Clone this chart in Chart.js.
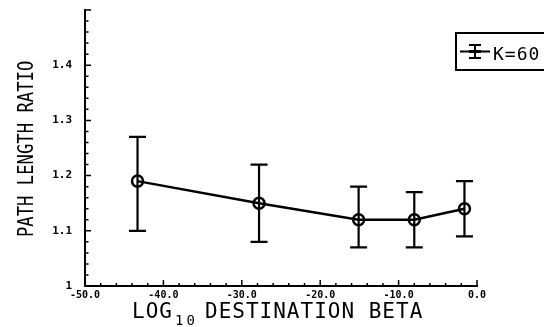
<!DOCTYPE html>
<html>
<head>
<meta charset="utf-8">
<script src="https://cdn.jsdelivr.net/npm/chart.js@4.4.1/dist/chart.umd.min.js"></script>
<style>
  html, body { margin: 0; padding: 0; background: #fff; }
  #wrap { width: 544px; height: 327px; position: relative; }
</style>
</head>
<body>
<div id="wrap"><canvas id="chart"></canvas></div>
<script>
// Данные
const betaLog = [-43.3, -27.8, -15.1, -8.0, -1.6];
const pathRatio = [1.19, 1.15, 1.12, 1.12, 1.14];
const ratioHigh = [1.27, 1.22, 1.18, 1.17, 1.19];
const ratioLow = [1.10, 1.08, 1.07, 1.07, 1.09];
const seriesName = 'K=60';
const xTitle = ['LOG', '10', 'DESTINATION BETA'];
const yTitle = 'PATH LENGTH RATIO';

const mono = '"DejaVu Sans Mono", "Liberation Mono", monospace';

function isMajor(v, step) {
  return Math.abs(v / step - Math.round(v / step)) < 1e-6;
}

// Рисуем засечки внутрь, планки ошибок, легенду и подписи осей
const decor = {
  id: 'decor',
  beforeDatasetsDraw(chart) {
    const ctx = chart.ctx;
    const xs = chart.scales.x, ys = chart.scales.y;
    ctx.save();
    ctx.strokeStyle = '#000';
    ctx.lineWidth = 2.2;
    ctx.lineCap = 'butt';
    betaLog.forEach((b, i) => {
      const px = xs.getPixelForValue(b);
      const hi = ys.getPixelForValue(ratioHigh[i]);
      const lo = ys.getPixelForValue(ratioLow[i]);
      ctx.beginPath();
      ctx.moveTo(px, hi); ctx.lineTo(px, lo);
      ctx.moveTo(px - 8.5, hi); ctx.lineTo(px + 8.5, hi);
      ctx.moveTo(px - 8.5, lo); ctx.lineTo(px + 8.5, lo);
      ctx.stroke();
    });
    ctx.restore();
  },
  afterDraw(chart) {
    const ctx = chart.ctx;
    const area = chart.chartArea;
    const xs = chart.scales.x, ys = chart.scales.y;
    ctx.save();
    ctx.strokeStyle = '#000';
    ctx.fillStyle = '#000';

    // засечки
    ctx.lineWidth = 1.5;
    ctx.beginPath();
    xs.ticks.forEach(t => {
      const px = xs.getPixelForValue(t.value);
      const len = isMajor(t.value, 10) ? 6 : 3;
      ctx.moveTo(px, area.bottom); ctx.lineTo(px, area.bottom - len);
    });
    ys.ticks.forEach(t => {
      const py = ys.getPixelForValue(t.value);
      const len = isMajor(t.value - 1, 0.1) ? 6 : 3.5;
      ctx.moveTo(area.left, py); ctx.lineTo(area.left + len, py);
    });
    ctx.stroke();

    // легенда
    ctx.lineWidth = 2;
    ctx.strokeRect(456, 33, 100, 37);
    ctx.beginPath();
    ctx.moveTo(460, 51.5); ctx.lineTo(490, 51.5);
    ctx.moveTo(475, 45); ctx.lineTo(475, 58);
    ctx.moveTo(469, 45); ctx.lineTo(481, 45);
    ctx.moveTo(469, 58); ctx.lineTo(481, 58);
    ctx.stroke();
    ctx.lineWidth = 3;
    ctx.beginPath();
    ctx.moveTo(469, 51.5); ctx.lineTo(481, 51.5);
    ctx.stroke();
    ctx.font = '18px ' + mono;
    ctx.textBaseline = 'alphabetic';
    ctx.textAlign = 'left';
    ctx.letterSpacing = '1px';
    ctx.fillText(seriesName, 493, 60);

    // подпись оси X с индексом
    ctx.font = '21px ' + mono;
    ctx.letterSpacing = '1px';
    ctx.fillText(xTitle[0], 132, 318);
    ctx.font = '14px ' + mono;
    ctx.letterSpacing = '3px';
    ctx.fillText(xTitle[1], 175, 325);
    ctx.font = '21px ' + mono;
    ctx.letterSpacing = '1px';
    ctx.fillText(xTitle[2], 205, 318);

    // подпись оси Y
    ctx.letterSpacing = '0px';
    ctx.translate(33, 237);
    ctx.rotate(-Math.PI / 2);
    ctx.scale(0.82, 1);
    ctx.fillText(yTitle, 0, 0);
    ctx.restore();
  }
};

new Chart(document.getElementById('chart'), {
  type: 'line',
  data: {
    datasets: [{
      label: seriesName,
      data: betaLog.map((b, i) => ({ x: b, y: pathRatio[i] })),
      borderColor: '#000',
      borderWidth: 2.5,
      pointRadius: 5.5,
      pointBorderWidth: 2.5,
      pointBorderColor: '#000',
      pointBackgroundColor: 'rgba(0,0,0,0)',
      tension: 0,
      clip: false
    }]
  },
  options: {
    responsive: true,
    maintainAspectRatio: false,
    animation: false,
    layout: { padding: { left: 0, right: 67, top: 10, bottom: 0 } },
    plugins: {
      legend: { display: false },
      tooltip: { enabled: false }
    },
    scales: {
      x: {
        type: 'linear',
        min: -50,
        max: 0,
        afterFit: s => {
          s.height = 41;
          s.paddingLeft = 0; s.paddingRight = 0;
        },
        grid: { display: false, drawTicks: false },
        border: { display: true, color: '#000', width: 2 },
        ticks: {
          stepSize: 2,
          autoSkip: false,
          maxRotation: 0,
          padding: 3,
          color: '#000',
          font: { family: mono, size: 10, weight: 'bold' },
          callback: v => isMajor(v, 10) ? v.toFixed(1) : ''
        }
      },
      y: {
        type: 'linear',
        min: 1,
        max: 1.5,
        afterFit: s => {
          s.width = 85;
          s.paddingTop = 0; s.paddingBottom = 0;
        },
        grid: { display: false, drawTicks: false },
        border: { display: true, color: '#000', width: 2 },
        ticks: {
          stepSize: 0.02,
          autoSkip: false,
          padding: 13,
          color: '#000',
          font: { family: mono, size: 11, weight: 'bold' },
          callback: v => {
            if (!isMajor(v - 1, 0.1) || v > 1.45) return '';
            return v < 1.05 ? '1' : v.toFixed(1);
          }
        }
      }
    }
  },
  plugins: [decor]
});
</script>
</body>
</html>
